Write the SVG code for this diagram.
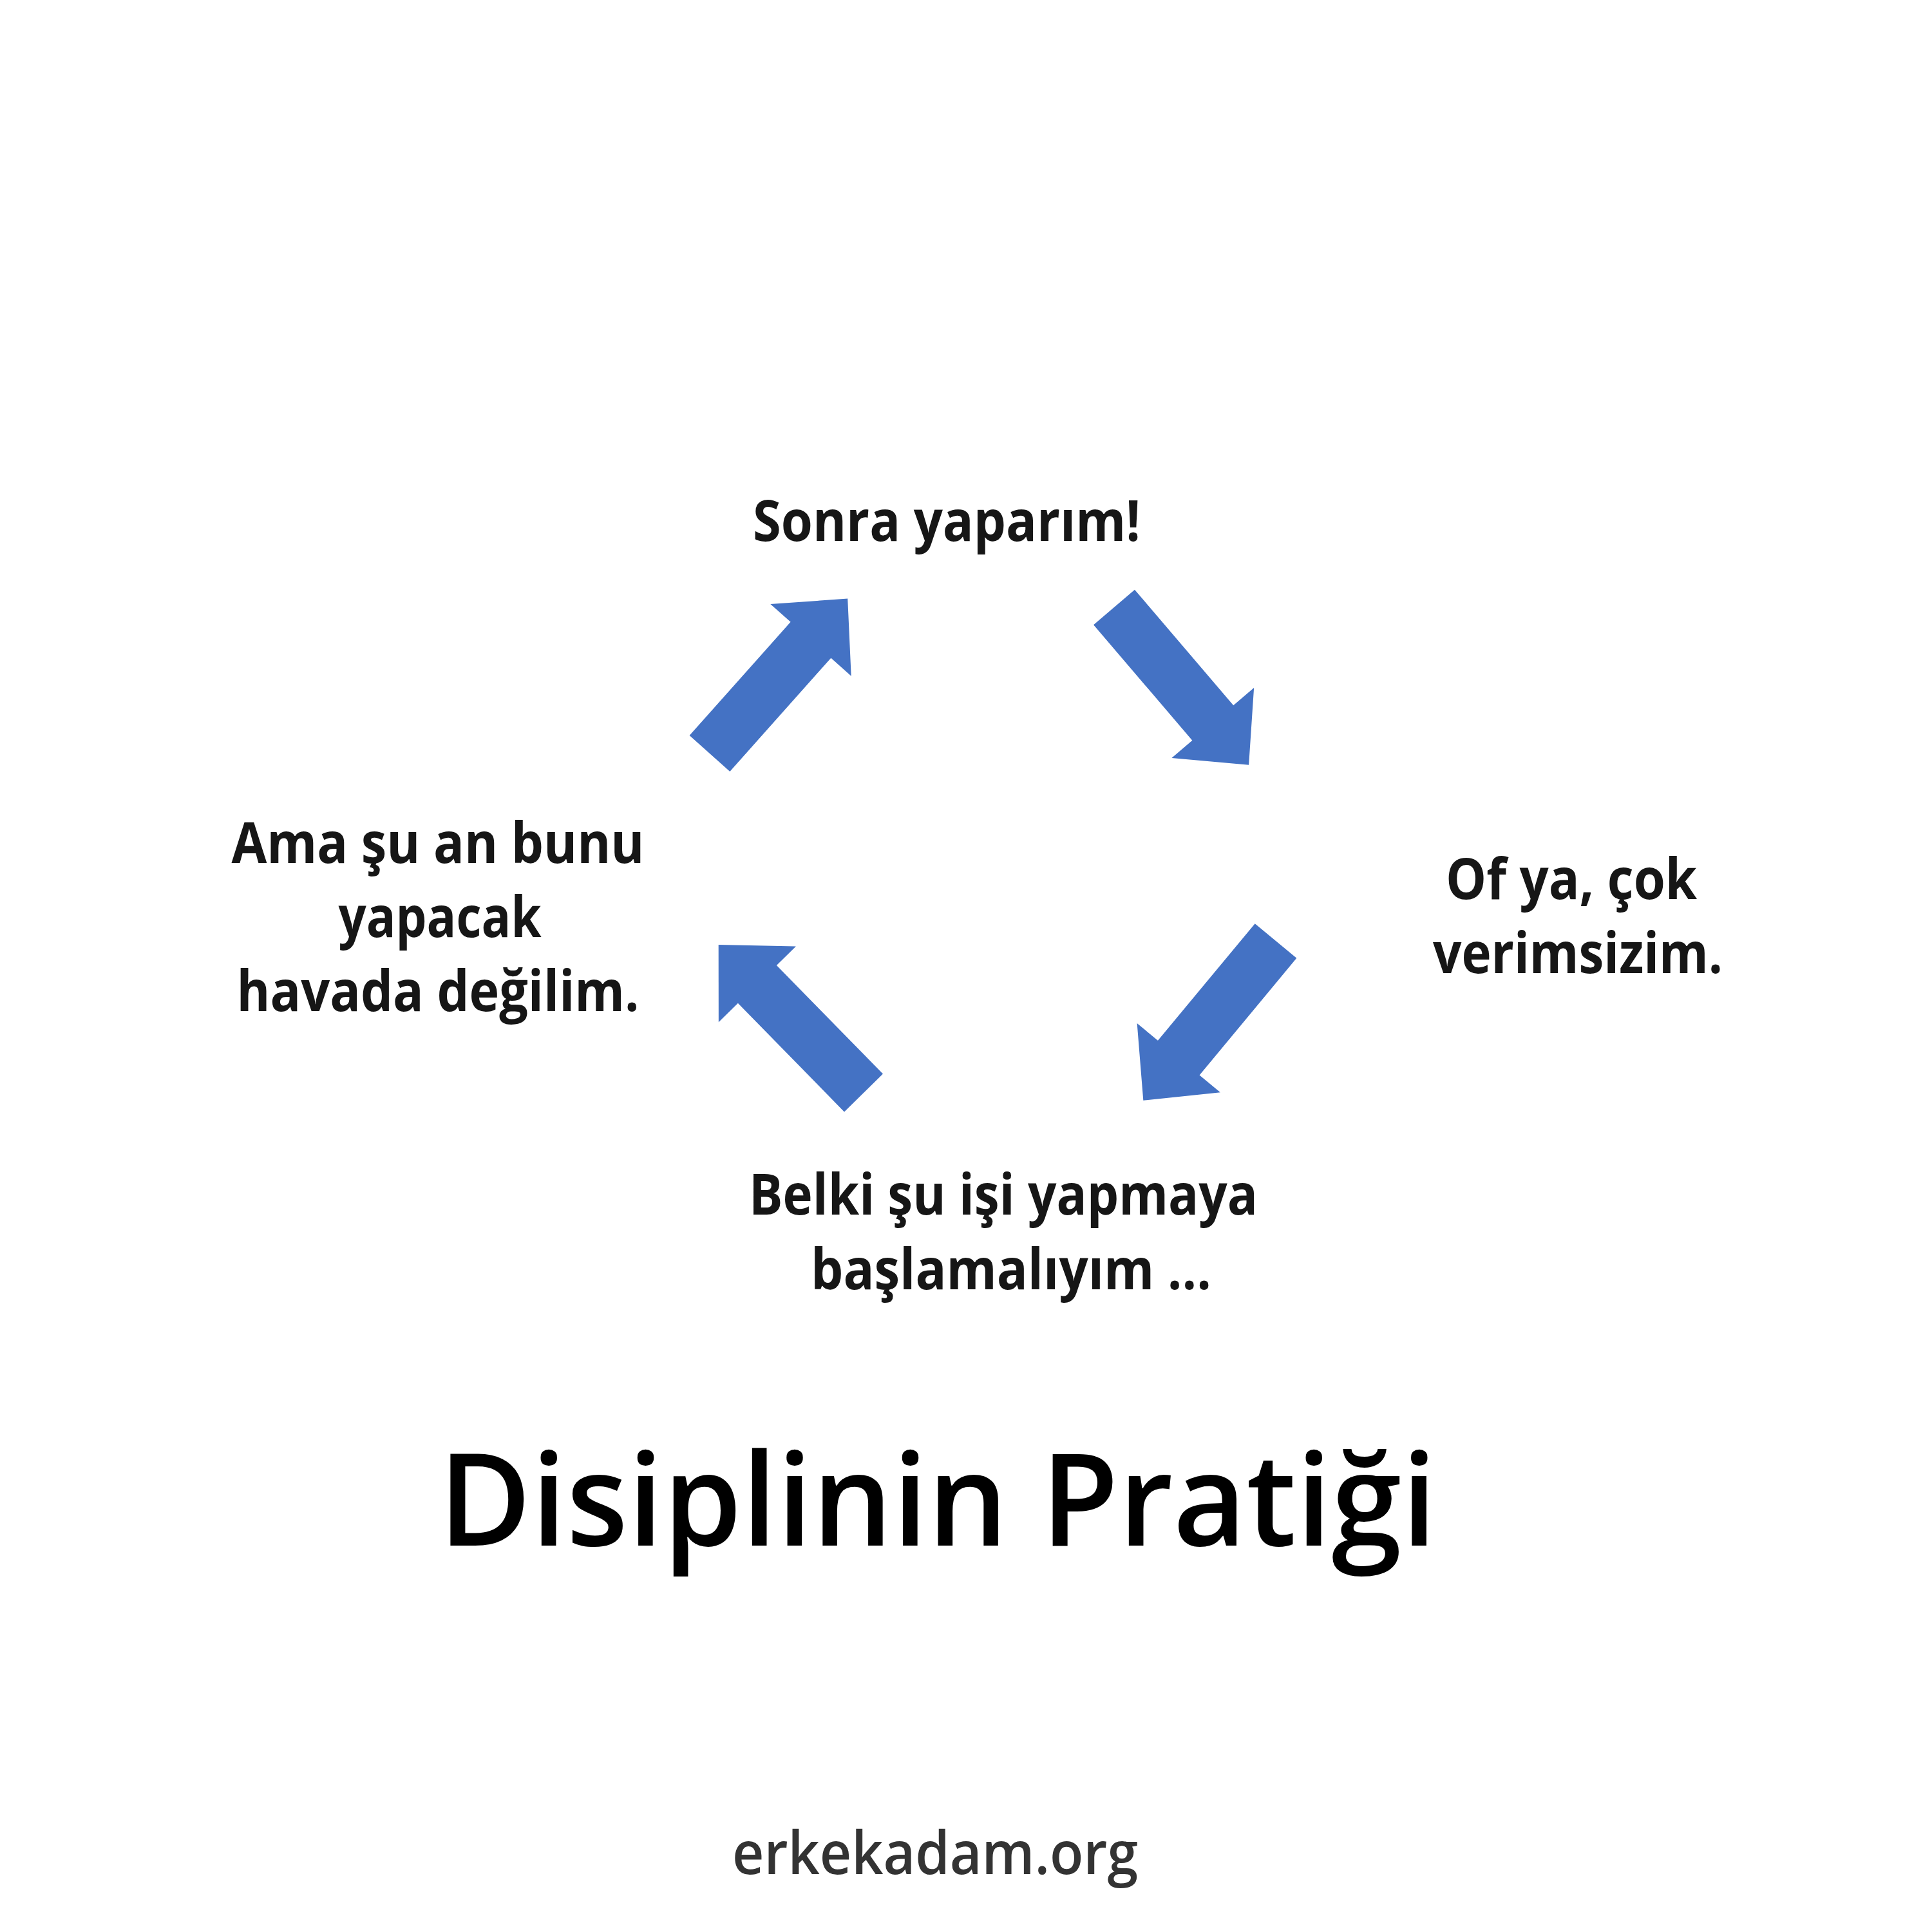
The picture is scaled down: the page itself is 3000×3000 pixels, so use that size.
<svg xmlns="http://www.w3.org/2000/svg" xmlns:xlink="http://www.w3.org/1999/xlink" width="3000" height="3000" viewBox="0 0 3000 3000">
  <style>
    .lbl { font-family: "Open Sans", "Noto Sans", "DejaVu Sans", sans-serif; font-weight: 700; font-size: 88px; fill: #161616; text-anchor: middle; }
    .title { font-family: "Open Sans", "Noto Sans", "DejaVu Sans", sans-serif; font-weight: 600; font-size: 200px; fill: #000000; text-anchor: middle; }
    .foot { font-family: "Open Sans", "Noto Sans", "DejaVu Sans", sans-serif; font-weight: 600; font-size: 92px; fill: #333333; text-anchor: middle; }
    .arrow { fill: #4472C4; }
  </style>
  <defs>
    <path id="blockArrow" d="M0,-42 L236,-42 L236,-84 L322,0 L236,84 L236,42 L0,42 Z"/>
  </defs>
  <rect x="0" y="0" width="3000" height="3000" fill="#ffffff"/>

  <g id="connectors">
    <use xlink:href="#blockArrow" class="arrow" transform="translate(1102,1170) rotate(-48.3)"/>
    <use xlink:href="#blockArrow" class="arrow" transform="translate(1730,943) rotate(49.5)"/>
    <use xlink:href="#blockArrow" class="arrow" transform="translate(1981,1461) rotate(129.7)"/>
    <use xlink:href="#blockArrow" class="arrow" transform="translate(1341,1697) rotate(-134.4)"/>
  </g>

  <g id="node-sonra">
    <text class="lbl" x="1470" y="840" textLength="602" lengthAdjust="spacingAndGlyphs">Sonra yaparım!</text>
  </g>

  <g id="node-of">
    <text class="lbl" x="2440" y="1396" textLength="390" lengthAdjust="spacingAndGlyphs">Of ya, çok</text>
    <text class="lbl" x="2450" y="1511" textLength="450" lengthAdjust="spacingAndGlyphs">verimsizim.</text>
  </g>

  <g id="node-belki">
    <text class="lbl" x="1558" y="1886" textLength="790" lengthAdjust="spacingAndGlyphs">Belki şu işi yapmaya</text>
    <text class="lbl" x="1570" y="2002" textLength="622" lengthAdjust="spacingAndGlyphs">başlamalıyım ...</text>
  </g>

  <g id="node-ama">
    <text class="lbl" x="680" y="1340" textLength="641" lengthAdjust="spacingAndGlyphs">Ama şu an bunu</text>
    <text class="lbl" x="683" y="1455" textLength="315" lengthAdjust="spacingAndGlyphs">yapacak</text>
    <text class="lbl" x="680" y="1570" textLength="625" lengthAdjust="spacingAndGlyphs">havada değilim.</text>
  </g>

  <g id="title">
    <text class="title" x="1456" y="2400" textLength="1550" lengthAdjust="spacingAndGlyphs">Disiplinin Pratiği</text>
  </g>

  <g id="footer">
    <text class="foot" x="1452" y="2910" textLength="630" lengthAdjust="spacingAndGlyphs">erkekadam.org</text>
  </g>
</svg>
